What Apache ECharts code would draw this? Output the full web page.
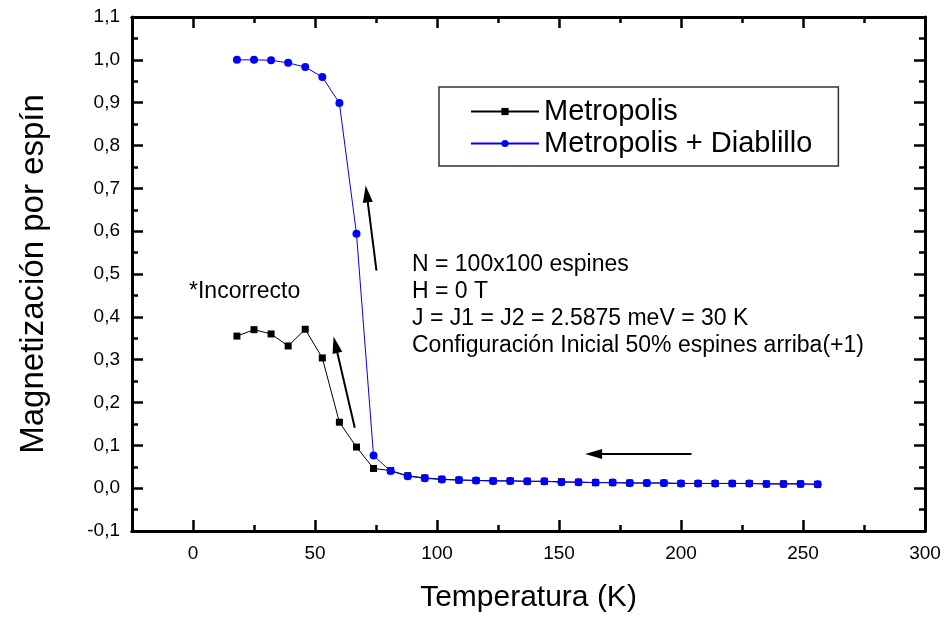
<!DOCTYPE html>
<html>
<head>
    <meta charset="utf-8">
    <script type="text/javascript" src="https://cdn.jsdelivr.net/npm/echarts@6/dist/echarts.min.js"></script>
</head>
<body style="margin: 0">
    <div id="container" style="width: 947px; height: 618px"></div>
    <script type="text/javascript">
        // temperatura (K)
        var temperaturas = [18, 25, 32, 39, 46, 53, 60, 67, 74, 81, 88, 95, 102, 109, 116, 123, 130, 137, 144,
            151, 158, 165, 172, 179, 186, 193, 200, 207, 214, 221, 228, 235, 242, 249, 256];
        // magnetizacion por espin
        var metropolis = [0.355, 0.370, 0.360, 0.332, 0.371, 0.304, 0.154, 0.096, 0.046, 0.041, 0.029, 0.024,
            0.021, 0.019, 0.018, 0.017, 0.017, 0.016, 0.016, 0.015, 0.014, 0.013, 0.013, 0.012, 0.012, 0.012,
            0.011, 0.011, 0.011, 0.011, 0.011, 0.010, 0.010, 0.010, 0.009];
        var diablillo = [1.000, 1.000, 0.999, 0.993, 0.983, 0.960, 0.899, 0.594, 0.076, 0.040, 0.028, 0.023,
            0.020, 0.019, 0.018, 0.017, 0.017, 0.016, 0.016, 0.014, 0.014, 0.013, 0.013, 0.012, 0.012, 0.012,
            0.011, 0.011, 0.011, 0.011, 0.011, 0.010, 0.010, 0.010, 0.009];
        var ticksMayores = [0, 50, 100, 150, 200, 250, 300];
        var ticksMenores = [25, 75, 125, 175, 225, 275];
        // flechas [desde, hasta] en coordenadas de datos
        var flechas = [
            [[75.2, 0.508], [71.2, 0.687]],
            [[66.3, 0.141], [58.4, 0.335]],
            [[204.3, 0.080], [164.2, 0.080]]
        ];
        var notas = ['N = 100x100 espines', 'H = 0 T', 'J = J1 = J2 = 2.5875 meV = 30 K',
            'Configuración Inicial 50% espines arriba(+1)'];

        var fuente = 'Liberation Sans, Arial, sans-serif';
        var dom = document.getElementById('container');
        var myChart = echarts.init(dom);

        function par(xs, ys) {
            var out = [];
            for (var i = 0; i < xs.length; i++) out.push([xs[i], ys[i]]);
            return out;
        }

        function ejeX(pos, valores, largo, etiquetas) {
            return {
                type: 'value', position: pos, min: -25, max: 300,
                axisLine: { onZero: false, lineStyle: { color: '#000', width: 3 } },
                axisTick: { inside: true, length: largo, customValues: valores, lineStyle: { color: '#000', width: 2.5 } },
                axisLabel: etiquetas ? {
                    customValues: valores, color: '#000', fontSize: 19, fontFamily: fuente, margin: 13
                } : { show: false },
                splitLine: { show: false }
            };
        }

        function ejeY(pos, etiquetas) {
            return {
                type: 'value', position: pos, min: -0.1, max: 1.1, interval: 0.1,
                axisLine: { onZero: false, lineStyle: { color: '#000', width: 3 } },
                axisTick: { inside: true, length: 11, lineStyle: { color: '#000', width: 2.5 } },
                minorTick: { show: true, splitNumber: 2, length: 6, lineStyle: { color: '#000', width: 2.5 } },
                axisLabel: etiquetas ? {
                    color: '#000', fontSize: 19, fontFamily: fuente, margin: 12,
                    formatter: function (v) { return v.toFixed(1).replace('.', ','); }
                } : { show: false },
                splitLine: { show: false },
                minorSplitLine: { show: false }
            };
        }

        var xPrincipal = ejeX('bottom', ticksMayores, 11, true);
        xPrincipal.name = 'Temperatura (K)';
        xPrincipal.nameLocation = 'middle';
        xPrincipal.nameGap = 52;
        xPrincipal.nameTextStyle = { fontSize: 30, fontFamily: fuente, color: '#000' };

        var yPrincipal = ejeY('left', true);
        yPrincipal.name = 'Magnetización por espín';
        yPrincipal.nameLocation = 'middle';
        yPrincipal.nameGap = 82;
        yPrincipal.nameTextStyle = { fontSize: 33, fontFamily: fuente, color: '#000' };

        var lineasFlecha = flechas.map(function (f) {
            return [{ coord: f[0] }, { coord: f[1] }];
        });

        var option = {
            animation: false,
            backgroundColor: '#fff',
            grid: { left: 132, right: 22, top: 17, bottom: 87 },
            xAxis: [
                xPrincipal,
                ejeX('bottom', ticksMenores, 6, false),
                ejeX('top', ticksMayores, 11, false),
                ejeX('top', ticksMenores, 6, false)
            ],
            yAxis: [yPrincipal, ejeY('right', false)],
            legend: {
                orient: 'vertical',
                left: 439, top: 87,
                padding: [10, 26, 8, 31],
                itemWidth: 68, itemHeight: 9, itemGap: 3, itemTextGap: 9,
                borderColor: '#333', borderWidth: 1.5,
                textStyle: { fontSize: 29, fontFamily: fuente, color: '#000', lineHeight: 29 },
                data: ['Metropolis', 'Metropolis + Diablillo']
            },
            graphic: [{
                type: 'text', left: 189, top: 278,
                style: { text: '*Incorrecto', fontSize: 23, lineHeight: 27, fontFamily: fuente, fill: '#000' }
            }, {
                type: 'text', left: 412, top: 251,
                style: { text: notas.join('\n'), fontSize: 23, lineHeight: 27, fontFamily: fuente, fill: '#000' }
            }],
            series: [{
                name: 'Metropolis',
                type: 'line',
                data: par(temperaturas, metropolis),
                symbol: 'rect', symbolSize: 7,
                itemStyle: { color: '#000' },
                lineStyle: { color: '#000', width: 1 },
                markLine: {
                    silent: true,
                    symbol: ['none', 'path://M5,0L10,20L0,20Z'],
                    symbolSize: [10, 17],
                    label: { show: false },
                    lineStyle: { color: '#000', width: 2, type: 'solid' },
                    data: lineasFlecha
                }
            }, {
                name: 'Metropolis + Diablillo',
                type: 'line',
                data: par(temperaturas, diablillo),
                symbol: 'circle', symbolSize: 8,
                itemStyle: { color: '#0000ff' },
                lineStyle: { color: '#0000ff', width: 1 }
            }]
        };
        myChart.setOption(option);
    </script>
</body>
</html>
